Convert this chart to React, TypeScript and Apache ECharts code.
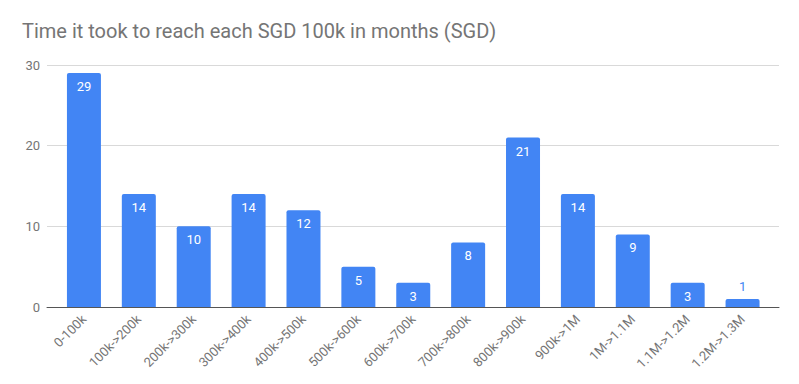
import React, { useEffect, useRef } from "react";
import * as echarts from "echarts";

const categories = [
  "0-100k", "100k->200k", "200k->300k", "300k->400k", "400k->500k", "500k->600k",
  "600k->700k", "700k->800k", "800k->900k", "900k->1M", "1M->1.1M", "1.1M->1.2M", "1.2M->1.3M",
];
const months = [29, 14, 10, 14, 12, 5, 3, 8, 21, 14, 9, 3, 1];
const yTicks = { min: 0, max: 30, interval: 10 };
const title = "Time it took to reach each SGD 100k in months (SGD)";

const BLUE = "#4285F4";
const FONT = "Roboto, 'Noto Sans', Arial, sans-serif";

export default function App() {
  const ref = useRef<HTMLDivElement>(null);
  useEffect(() => {
    if (!ref.current) return;
    const chart = echarts.init(ref.current, null, { renderer: "svg" });
    const data = months.map((v) =>
      v < 2
        ? { value: v, label: { position: "top", color: BLUE, distance: 6 } }
        : { value: v }
    );
    chart.setOption({
      animation: false,
      textStyle: { fontFamily: FONT },
      title: {
        text: title,
        left: 22,
        top: 21,
        padding: 0,
        textStyle: { fontFamily: FONT, fontSize: 20, fontWeight: "normal", color: "#757575" },
      },
      grid: [
        { left: 47, right: 20, top: 65, bottom: 77 },
        { left: 56.5, right: 29, top: 65, bottom: 77 },
      ],
      xAxis: [
        {
          type: "category",
          gridIndex: 0,
          data: categories,
          axisLine: { show: true, lineStyle: { color: "#555", width: 1 } },
          axisTick: { show: false },
          axisLabel: { show: false },
        },
        {
          type: "category",
          gridIndex: 1,
          data: categories,
          axisLine: { show: false },
          axisTick: { show: false },
          axisLabel: {
            rotate: 45,
            interval: 0,
            fontSize: 13,
            color: "#757575",
            fontFamily: FONT,
            margin: 10,
          },
        },
      ],
      yAxis: [
        {
          type: "value",
          gridIndex: 0,
          min: yTicks.min,
          max: yTicks.max,
          interval: yTicks.interval,
          axisLine: { show: false },
          axisTick: { show: false },
          axisLabel: { fontSize: 13, color: "#757575", fontFamily: FONT, margin: 7 },
          splitLine: { lineStyle: { color: "#d9d9d9", width: 1 } },
        },
        {
          type: "value",
          gridIndex: 1,
          min: yTicks.min,
          max: yTicks.max,
          interval: yTicks.interval,
          show: false,
          splitLine: { show: false },
        },
      ],
      series: [
        {
          type: "bar",
          xAxisIndex: 1,
          yAxisIndex: 1,
          data,
          barWidth: 34,
          itemStyle: { color: BLUE, borderRadius: [2, 2, 0, 0] },
          label: {
            show: true,
            position: "insideTop",
            distance: 7,
            color: "#fff",
            fontSize: 13,
            fontFamily: FONT,
          },
          z: 3,
        },
      ],
    });
    return () => chart.dispose();
  }, []);
  return (
    <div
      ref={ref}
      style={{ position: "fixed", left: 0, top: 0, width: 799, height: 384, background: "#fff" }}
    />
  );
}
